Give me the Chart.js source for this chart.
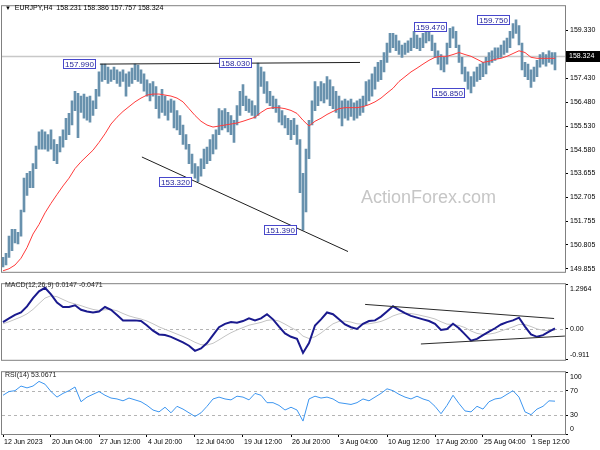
<!DOCTYPE html>
<html><head><meta charset="utf-8">
<script src="https://cdn.jsdelivr.net/npm/chart.js@4.4.0/dist/chart.umd.min.js"></script>
<style>
html,body{margin:0;padding:0;background:#fff;width:600px;height:450px;overflow:hidden;}
.pane{position:absolute;left:0;width:600px;}
.txt{position:absolute;font-family:"Liberation Sans",Arial,sans-serif;color:#000;white-space:nowrap;pointer-events:none;line-height:9px;font-size:7px;}
</style></head><body>
<div class="pane" style="top:0;height:278px"><canvas id="cMain" width="600" height="278"></canvas></div>
<div class="pane" style="top:278px;height:88px"><canvas id="cMacd" width="600" height="88"></canvas></div>
<div class="pane" style="top:366px;height:84px"><canvas id="cRsi" width="600" height="84"></canvas></div>
<div class="txt" style="left:5px;top:3px;"><span style="font-size:6px">&#9660;</span>&nbsp; EURJPY,H4&nbsp; 158.231 158.386 157.757 158.324</div>
<div class="txt" style="left:5px;top:280px;color:#222">MACD(12,26,9) 0.0147 -0.0471</div>
<div class="txt" style="left:5px;top:370px;color:#222">RSI(14) 53.0671</div>
<div class="txt" style="left:361px;top:187px;font-size:18px;line-height:20px;color:#c6c6c6">ActionForex.com</div>
<script>
// ---------- DATA ----------
const symbolInfo = "EURJPY,H4";
const barHigh = [150.31,150.47,151.16,151.43,151.43,151.31,152.19,153.46,153.65,153.73,154.04,154.73,155.30,155.38,155.30,155.19,155.38,154.99,154.80,155.11,
155.38,155.84,156.03,156.53,156.91,156.83,156.72,156.80,156.68,156.72,156.53,156.99,157.68,157.99,157.99,157.87,157.76,157.87,157.76,157.68,
157.76,157.60,157.68,157.83,157.99,157.95,157.76,157.60,157.37,157.22,157.30,157.10,156.72,156.99,156.72,156.53,156.60,156.53,156.14,155.95,
155.57,155.19,154.80,154.42,154.04,153.92,154.23,154.61,154.69,154.99,155.19,155.38,156.22,156.14,156.22,156.07,155.95,155.76,156.34,156.91,
157.18,156.72,156.60,156.53,156.34,158.03,157.87,157.68,157.30,156.91,156.72,156.60,156.34,156.14,155.95,155.84,155.76,155.84,155.57,154.99,
153.65,154.61,155.76,156.53,157.30,157.10,157.30,157.22,157.49,157.37,157.10,156.91,156.72,156.53,156.60,156.53,156.60,156.45,156.53,156.60,
156.72,157.30,157.37,157.60,157.87,158.06,158.14,158.45,158.83,159.21,159.21,159.14,158.91,158.75,158.83,158.91,159.02,159.29,159.14,159.02,
159.21,159.37,159.41,159.14,158.83,158.52,158.37,158.26,158.83,159.41,159.47,159.29,158.75,158.26,157.87,157.68,157.49,157.68,157.87,157.99,
158.06,158.26,158.45,158.52,158.64,158.64,158.75,158.91,159.02,159.29,159.60,159.75,159.52,158.83,158.06,157.99,157.76,157.87,158.14,158.37,
158.45,158.37,158.52,158.45,158.45];
const barLow = [149.93,150.01,150.31,150.58,150.89,150.85,151.16,152.12,152.77,153.08,153.08,153.84,154.61,154.61,154.61,154.53,154.61,154.15,154.04,154.50,
154.69,154.99,155.19,155.57,156.14,155.07,156.07,155.84,155.76,155.68,155.95,156.22,156.72,157.30,157.37,157.22,157.30,157.37,157.22,157.10,
157.30,156.72,157.10,157.22,157.37,157.30,157.22,156.91,156.72,156.53,156.72,156.22,155.84,156.07,155.95,155.76,156.07,155.46,155.38,155.19,
154.80,154.61,154.04,153.65,153.46,153.32,153.54,153.84,154.04,154.15,154.42,154.61,155.19,155.38,155.46,155.30,155.19,154.88,155.57,155.95,
156.34,156.14,156.07,155.95,155.84,155.95,157.10,156.83,156.45,156.34,156.22,156.07,155.68,155.57,155.46,155.19,154.99,155.19,154.80,152.88,
151.39,152.12,154.23,155.57,156.14,156.34,156.53,156.45,156.60,156.34,156.22,156.07,155.84,155.53,155.84,155.76,155.91,155.76,155.84,155.95,
156.07,156.34,156.53,156.72,156.99,157.30,157.37,157.68,158.06,158.45,158.64,158.52,158.37,158.26,158.37,158.45,158.52,158.64,158.60,158.52,
158.64,158.83,158.91,158.52,158.26,157.99,157.76,157.68,157.99,158.64,159.02,158.64,158.06,157.60,157.30,156.99,156.85,157.10,157.30,157.37,
157.49,157.60,157.95,158.06,158.14,158.22,158.26,158.37,158.45,158.64,159.02,159.21,158.75,157.76,157.49,157.37,157.06,157.30,157.49,157.87,
157.99,157.91,158.06,157.99,157.76];
// moving average, one reading every 2nd bar
const maLine = [149.78,149.86,150.01,150.28,150.70,151.24,151.62,152.08,152.46,152.81,153.15,153.46,153.84,154.11,154.34,154.57,154.88,155.22,155.61,155.88,
156.11,156.30,156.49,156.64,156.76,156.80,156.80,156.76,156.72,156.64,156.49,156.22,155.95,155.72,155.57,155.49,155.53,155.57,155.61,155.65,
155.72,155.80,155.88,156.07,156.22,156.26,156.26,156.22,156.15,156.03,155.76,155.53,155.72,155.84,155.99,156.11,156.22,156.26,156.26,156.26,
156.30,156.38,156.49,156.64,156.84,157.03,157.30,157.49,157.68,157.83,157.99,158.14,158.26,158.30,158.30,158.37,158.45,158.37,158.30,158.18,
158.06,158.10,158.18,158.22,158.30,158.41,158.52,158.45,158.26,158.22,158.22,158.22,158.22];
const macdLine = [0.19,0.30,0.40,0.47,0.65,0.89,1.09,1.19,1.00,0.76,0.63,0.63,0.68,0.55,0.50,0.47,0.50,0.63,0.55,0.40,
0.24,0.24,0.24,0.22,0.09,-0.06,-0.17,-0.19,-0.24,-0.32,-0.40,-0.50,-0.65,-0.58,-0.42,-0.19,0.04,0.14,0.19,0.17,
0.22,0.30,0.24,0.30,0.42,0.27,0.06,-0.14,-0.24,-0.30,-0.71,-0.42,0.09,0.27,0.47,0.42,0.27,0.12,0.04,-0.01,
0.14,0.22,0.24,0.35,0.50,0.65,0.55,0.45,0.37,0.32,0.27,0.22,0.14,-0.04,-0.01,0.14,0.01,-0.17,-0.35,-0.30,
-0.19,-0.09,0.01,0.12,0.19,0.24,0.32,0.06,-0.17,-0.24,-0.19,-0.09,0.01];
const signalLine = [0.14,0.20,0.27,0.34,0.43,0.56,0.73,0.89,0.96,0.93,0.85,0.77,0.72,0.67,0.61,0.56,0.53,0.55,0.56,0.52,
0.44,0.37,0.32,0.28,0.22,0.14,0.05,-0.02,-0.09,-0.16,-0.23,-0.31,-0.40,-0.47,-0.48,-0.43,-0.33,-0.22,-0.12,-0.04,
0.03,0.10,0.14,0.18,0.24,0.26,0.22,0.13,0.03,-0.06,-0.22,-0.29,-0.24,-0.13,0.01,0.14,0.21,0.22,0.19,0.14,
0.13,0.14,0.17,0.21,0.28,0.37,0.43,0.45,0.44,0.41,0.37,0.33,0.28,0.20,0.13,0.12,0.09,0.03,-0.07,-0.14,
-0.17,-0.16,-0.13,-0.07,-0.01,0.05,0.12,0.12,0.06,-0.01,-0.05,-0.06,-0.05];
const rsiLine = [62.7,68.7,70.1,77.6,74.6,77.6,85.1,80.6,68.7,59.7,65.7,70.1,76.1,52.2,59.7,64.2,68.7,62.7,58.2,56.7,
53.7,58.2,55.2,52.2,46.3,38.8,35.8,43.3,34.3,44.8,40.3,34.3,28.4,34.3,44.8,56.7,59.7,56.7,55.2,61.2,
59.7,55.2,65.7,62.7,50.7,50.7,46.3,38.8,43.3,38.8,20.9,56.7,61.2,58.2,59.7,56.7,50.7,49.3,47.8,50.7,
56.7,53.7,59.7,65.7,73.1,70.1,64.2,59.7,56.7,61.2,56.7,53.7,44.8,32.8,46.3,62.7,49.3,37.3,35.8,44.8,
40.3,52.2,56.7,58.2,64.2,70.1,59.7,35.8,31.3,40.3,44.8,53.7,53.1];
const priceTicks = [159.330,157.430,156.480,155.530,154.580,153.655,152.705,151.755,150.805,149.855];
const lastPrice = 158.324;
const macdTicks = [1.2964, 0, -0.911];
const macdTickLabels = ["1.2964","0.00","-0.911"];
const rsiTicks = [100, 70, 30, 0];
const rsiLevels = [70, 30];
const xTickLabels = ["12 Jun 2023","20 Jun 04:00","27 Jun 12:00","4 Jul 20:00","12 Jul 04:00","19 Jul 12:00","26 Jul 20:00","3 Aug 04:00","10 Aug 12:00","17 Aug 20:00","25 Aug 04:00","1 Sep 12:00"];
const BARS_PER_LABEL = 16;
// extremes marked on the chart: bar index, price, text
const markBars = [33, 85, 65, 100, 150, 171, 156];
const markPrices = [157.990, 158.030, 153.320, 151.390, 159.470, 159.750, 156.850];
// drawn lines: [bar, value] end points
const resistanceLine = [[32.3,157.990],[119,158.056]];
const supportTrend = [[46.3,154.30],[115,150.545]];
const macdUpper = [[120.7,0.706],[183.7,0.295]];
const macdLower = [[139.3,-0.449],[187.3,-0.218]];

// ---------- CHARTS ----------
const FONT = '"Liberation Sans", Arial, sans-serif';
const X_MIN = -1/3, X_MAX = 187 + 1/3;
const every2 = arr => arr.map((v,k)=>({x:2*k, y:v}));
const seg = arr => arr.map(p=>({x:p[0], y:p[1]}));

function xHidden(){ return {type:'linear', min:X_MIN, max:X_MAX, display:false, offset:false}; }
function yAxis(min, max, ticksArr, fmt){
  return {
    position:'right', min, max,
    afterBuildTicks: s => { s.ticks = ticksArr.map(v=>({value:v})); },
    afterFit: s => { s.width = 35; },
    ticks:{autoSkip:false, font:{family:FONT, size:7}, color:'#000', padding:2, callback:fmt},
    grid:{drawOnChartArea:false, drawTicks:true, tickLength:3, color:'#000'},
    border:{display:true, color:'#7f7f7f'}
  };
}
const frame = {id:'frame', afterDraw(chart){
  const {ctx, chartArea:a} = chart; ctx.save(); ctx.strokeStyle='#808080'; ctx.lineWidth=1;
  ctx.strokeRect(a.left-0.5, a.top-0.5, a.right-a.left+1, a.bottom-a.top+1); ctx.restore(); }};
const edgeLabels = {id:'edgeLabels', beforeDraw(chart){
  const s = chart.scales.y; const items = s.getLabelItems();
  items.forEach(it=>{ const t = it.options.translation;
    if (t[1] < s.top + 4.5) t[1] = s.top + 4.5;
    if (t[1] > s.bottom - 4.5) t[1] = s.bottom - 4.5; });
}};
function hLevel(chart, v, color, dash, width){
  const {ctx, chartArea:a, scales:{y}} = chart; const py = Math.round(y.getPixelForValue(v)) + 0.5;
  ctx.save(); ctx.strokeStyle=color; ctx.lineWidth=width; ctx.setLineDash(dash);
  ctx.beginPath(); ctx.moveTo(a.left, py); ctx.lineTo(a.right, py); ctx.stroke(); ctx.restore();
}
const lineDS = (data, color, width, order) => ({type:'line', data, borderColor:color, borderWidth:width, pointRadius:0, fill:false, tension:0, order});
const base = (pad) => ({responsive:false, animation:false, events:[], layout:{autoPadding:false, padding:pad},
  plugins:{legend:{display:false}, tooltip:{enabled:false}}});

// main price panel
const mainPlugin = {id:'mainExtras',
  beforeDatasetsDraw(chart){ hLevel(chart, lastPrice, '#c8c8c8', [], 1.5); },
  afterDatasetsDraw(chart){
    const {ctx, scales:{x,y}} = chart; ctx.save(); ctx.font = '8px ' + FONT; ctx.textBaseline='middle';
    markBars.forEach((b,i)=>{
      const txt = markPrices[i].toFixed(3); const w = Math.ceil(ctx.measureText(txt).width) + 4, h = 10;
      const right = Math.round(x.getPixelForValue(b)) - 6, cy = Math.round(y.getPixelForValue(markPrices[i]));
      ctx.fillStyle='#fff'; ctx.fillRect(right-w, cy-h/2, w, h);
      ctx.strokeStyle='#4848cc'; ctx.lineWidth=1; ctx.strokeRect(right-w+0.5, cy-h/2+0.5, w-1, h-1);
      ctx.fillStyle='#26269a'; ctx.fillText(txt, right-w+2, cy+0.5);
    });
    ctx.restore();
  },
  afterDraw(chart){
    const {ctx, scales:{y}} = chart; const cy = Math.round(y.getPixelForValue(lastPrice));
    ctx.save(); ctx.fillStyle='#000'; ctx.fillRect(566, cy-5, 34, 11);
    ctx.fillStyle='#fff'; ctx.font='7px ' + FONT; ctx.textBaseline='middle'; ctx.fillText(lastPrice.toFixed(3), 569, cy+0.5); ctx.restore();
  }};
new Chart(document.getElementById('cMain'), {
  type:'bar',
  data:{datasets:[
    {type:'bar', data: barHigh.map((h,i)=>({x:i, y:[barLow[i], h]})), backgroundColor:'#6891ad', barThickness:2, grouped:false, borderWidth:0, order:5},
    lineDS(every2(maLine), '#ff3b3b', 1, 2),
    lineDS(seg(resistanceLine), '#1e1e1e', 1, 1),
    lineDS(seg(supportTrend), '#1e1e1e', 1, 1)
  ]},
  options:Object.assign(base({left:2, top:2, right:0, bottom:1}), {
    scales:{ x: xHidden(), y: yAxis(149.74, 160.29, priceTicks, v=>v.toFixed(3)) }
  }),
  plugins:[mainPlugin, frame]
});

// MACD panel
new Chart(document.getElementById('cMacd'), {
  type:'line',
  data:{datasets:[
    lineDS(every2(signalLine), '#c4c4c4', 1, 3),
    lineDS(every2(macdLine), '#1a1a8e', 2, 2),
    lineDS(seg(macdUpper), '#2a2a2a', 1, 1),
    lineDS(seg(macdLower), '#2a2a2a', 1, 1)
  ]},
  options:Object.assign(base({left:2, top:1, right:0, bottom:1}), {
    scales:{ x: xHidden(), y: yAxis(-0.911, 1.2964, macdTicks, (v,i)=>macdTickLabels[i]) }
  }),
  plugins:[{id:'zero', beforeDatasetsDraw(c){ hLevel(c, 0, '#b4b4b4', [3,3], 1); }}, edgeLabels, frame]
});

// RSI panel
const xAxisRsi = {
  type:'linear', min:X_MIN, max:X_MAX, offset:false, position:'bottom',
  afterBuildTicks: s => { s.ticks = xTickLabels.map((_,i)=>({value:i*BARS_PER_LABEL})); },
  afterFit: s => { s.height = 16; },
  ticks:{autoSkip:false, maxRotation:0, align:'start', labelOffset:1, padding:1, font:{family:FONT, size:7}, color:'#000', callback:(v,i)=>xTickLabels[i]},
  grid:{drawOnChartArea:false, drawTicks:true, tickLength:3, color:'#000'},
  border:{display:true, color:'#7f7f7f'}
};
new Chart(document.getElementById('cRsi'), {
  type:'line',
  data:{datasets:[ lineDS(every2(rsiLine), '#3d96f0', 1, 1) ]},
  options:Object.assign(base({left:2, top:1, right:0, bottom:0}), {
    scales:{ x: xAxisRsi, y: yAxis(0, 100, rsiTicks, v=>String(v)) }
  }),
  plugins:[{id:'levels', beforeDatasetsDraw(c){ rsiLevels.forEach(l=>hLevel(c, l, '#b4b4b4', [3,3], 1)); }}, edgeLabels, frame]
});
</script>
</body></html>
